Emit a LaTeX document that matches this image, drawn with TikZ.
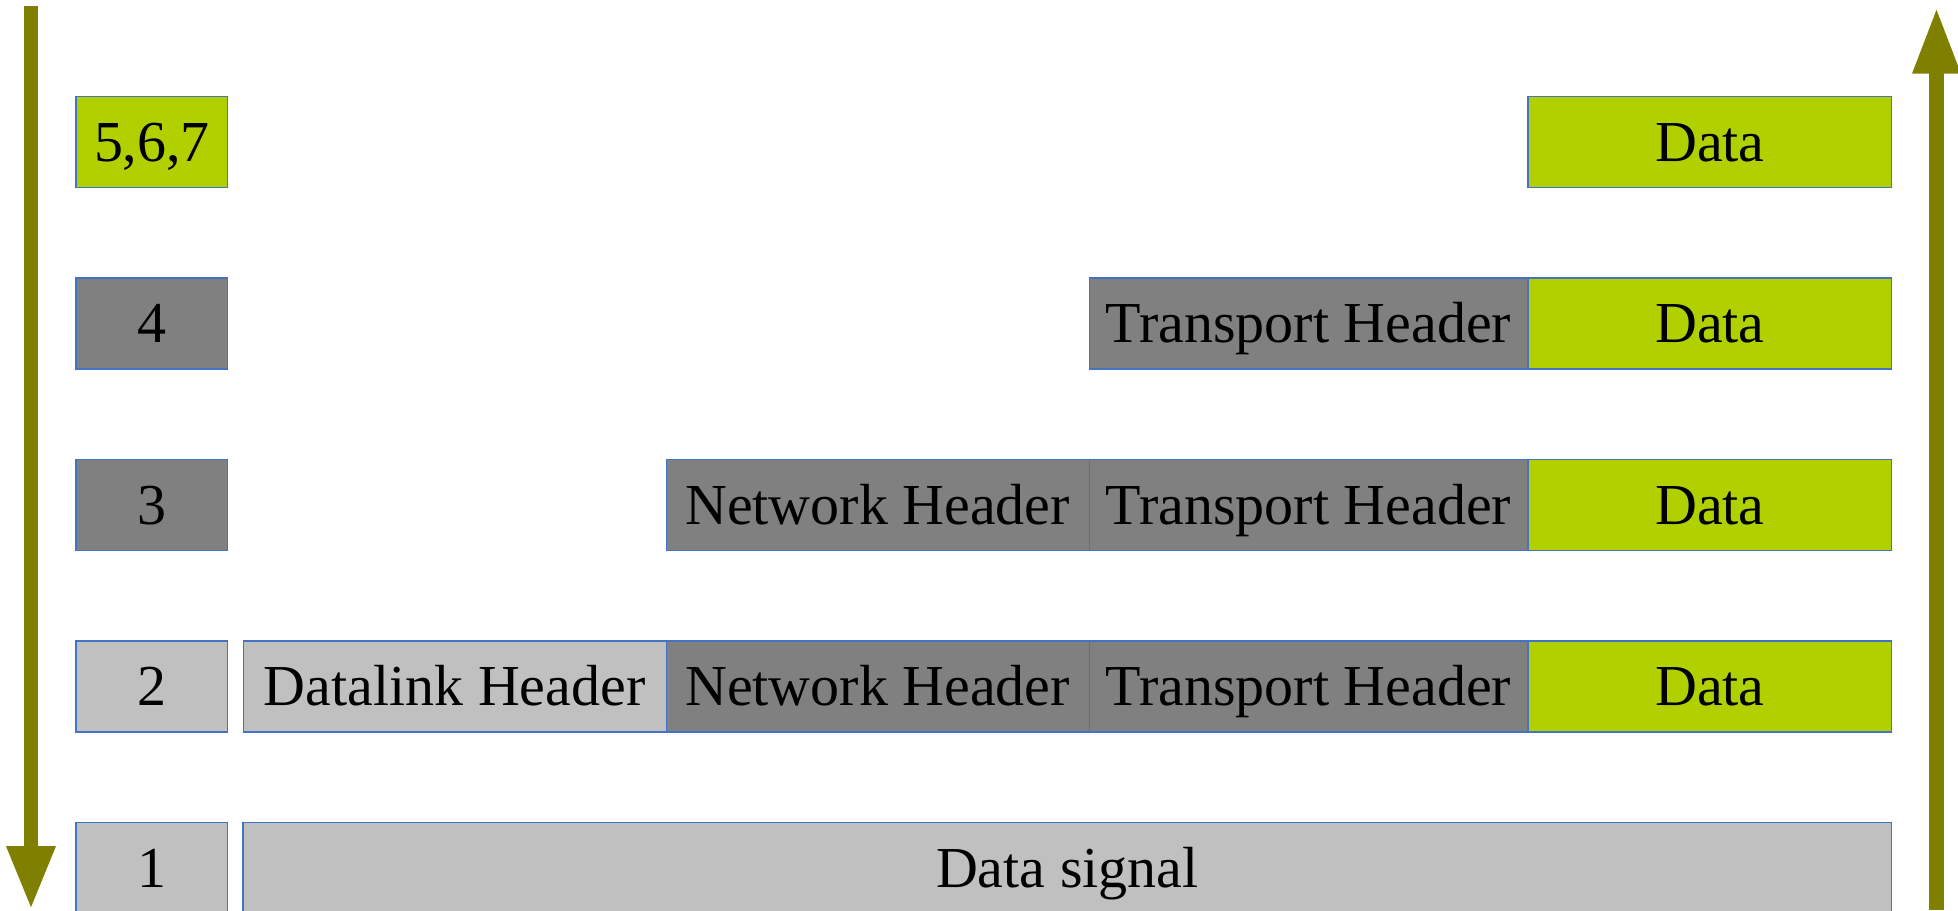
\documentclass[tikz,border=0pt]{standalone}
\usepackage{fontspec}
\setmainfont{Liberation Serif}
\usetikzlibrary{positioning,arrows.meta}
\definecolor{lime}{RGB}{176,208,0}
\definecolor{darkcell}{RGB}{128,128,128}
\definecolor{lightcell}{RGB}{192,192,192}
\definecolor{olivearrow}{RGB}{128,128,0}
\definecolor{edge}{RGB}{68,114,196}
\begin{document}
\begin{tikzpicture}[x=0.02cm,y=-0.02cm,
  cell/.style={draw=edge,line width=0.6pt,inner sep=0pt,outer sep=0pt,
    minimum height=1.82cm,text height=21.8pt,text depth=0pt,
    font=\fontsize{33}{36}\selectfont},
  datacell/.style={cell,fill=lime,minimum width=7.28cm},
  transcell/.style={cell,fill=darkcell,minimum width=8.78cm},
  netcell/.style={cell,fill=darkcell,minimum width=8.46cm},
  linkcell/.style={cell,fill=lightcell,minimum width=8.46cm},
  laycell/.style={cell,minimum width=3.04cm,anchor=north west},
  flow/.style={draw=olivearrow,line width=0.3cm}]
\useasboundingbox (0,0) rectangle (1958,910);
% layer numbers
\node[laycell,fill=lime] (lay5) at (76,96.5) {5,6,7};
\node[laycell,fill=darkcell] (lay4) at (76,278) {4};
\node[laycell,fill=darkcell] (lay3) at (76,459.5) {3};
\node[laycell,fill=lightcell] (lay2) at (76,641) {2};
\node[laycell,fill=lightcell] (lay1) at (76,822.7) {1};
% row 5,6,7
\node[datacell,anchor=north west] (data5) at (1528,96.5) {Data};
% row 4
\node[datacell,anchor=north west] (data4) at (1528,278) {Data};
\node[transcell,left=0pt of data4] (trans4) {Transport Header};
% row 3
\node[datacell,anchor=north west] (data3) at (1528,459.5) {Data};
\node[transcell,left=0pt of data3] (trans3) {Transport Header};
\node[netcell,left=0pt of trans3] (net3) {Network Header};
% row 2
\node[datacell,anchor=north west] (data2) at (1528,641) {Data};
\node[transcell,left=0pt of data2] (trans2) {Transport Header};
\node[netcell,left=0pt of trans2] (net2) {Network Header};
\node[linkcell,left=0pt of net2] (link2) {Datalink Header};
% row 1
\node[cell,fill=lightcell,minimum width=32.98cm,anchor=north west] (sig1) at (243,822.7) {Data signal};
% arrows
\coordinate (downtop) at (31,6);
\coordinate (downend) at (31,910);
\coordinate (upstart) at (1936.5,910);
\coordinate (uptop) at (1936.5,6.7);
\draw[flow,-{Triangle[length=1.28cm,width=0.9cm]}] (downtop) -- (downend);
\draw[flow,-{Triangle[length=1.34cm,width=0.88cm]}] (upstart) -- (uptop);
\end{tikzpicture}
\end{document}
